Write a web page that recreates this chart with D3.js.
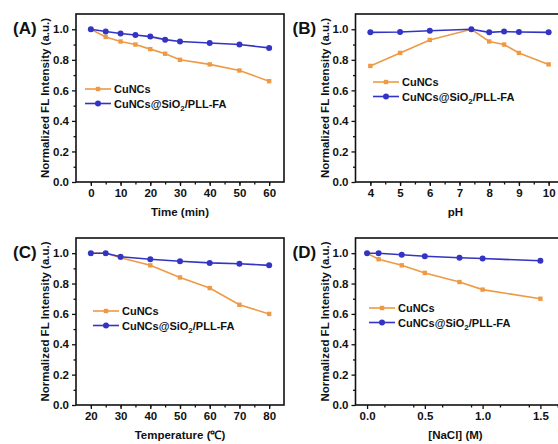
<!doctype html>
<html lang="en">
<head>
<meta charset="UTF-8">
<title>FL stability</title>
<script src="https://cdn.jsdelivr.net/npm/d3@7"></script>
<style>
    body{ margin:0; background:#fff; font-family:"Liberation Sans", Arial, sans-serif; }
    svg{ display:block; }
    .frame{ fill:none; stroke:#111; stroke-width:1.6px; }
    .tick text{ font-weight:bold; font-size:11.5px; fill:#111; }
    .axisTitle{ font-weight:bold; font-size:11.5px; fill:#111; }
    .panelLabel{ font-weight:bold; font-size:17px; fill:#111; }
    .legend text{ font-weight:bold; font-size:11px; fill:#111; }
</style>
</head>
<body>
<svg width="558" height="444"></svg>
<script>
    // data
    const timeX = [0, 5, 10, 15, 20, 25, 30, 40, 50, 60];
    const timeCu = [1.0, 0.95, 0.92, 0.90, 0.87, 0.84, 0.80, 0.77, 0.73, 0.66];
    const timeSi = [1.0, 0.985, 0.972, 0.962, 0.952, 0.932, 0.92, 0.91, 0.90, 0.878];

    const phX = [4, 5, 6, 7.4, 8, 8.5, 9, 10];
    const phCu = [0.76, 0.845, 0.93, 1.0, 0.92, 0.90, 0.845, 0.77];
    const phSi = [0.98, 0.982, 0.99, 1.0, 0.98, 0.985, 0.982, 0.98];

    const tempX = [20, 25, 30, 40, 50, 60, 70, 80];
    const tempCu = [1.0, 1.0, 0.97, 0.92, 0.84, 0.77, 0.66, 0.60];
    const tempSi = [1.0, 1.0, 0.977, 0.96, 0.947, 0.936, 0.93, 0.92];

    const naclX = [0, 0.1, 0.3, 0.5, 0.8, 1.0, 1.5];
    const naclCu = [1.0, 0.96, 0.92, 0.87, 0.81, 0.76, 0.70];
    const naclSi = [1.0, 1.0, 0.99, 0.98, 0.97, 0.965, 0.95];

    const seriesNames = ["CuNCs", "CuNCs@SiO2/PLL-FA"];
    const yTicks = [0.0, 0.2, 0.4, 0.6, 0.8, 1.0];

    const colors = ["#ee9a45", "#3434c4"];

    // layout of each panel
    const panels = [
        {tag:"(A)", x:timeX, cu:timeCu, si:timeSi, xTitle:"Time (min)",
         xd:[-5,65], xt:[0,10,20,30,40,50,60], xm:5, fmt:d3.format("d"),
         l:76, r:284, t:14, b:182, leg:[85,89]},
        {tag:"(B)", x:phX, cu:phCu, si:phSi, xTitle:"pH",
         xd:[3.5,10.5], xt:[4,5,6,7,8,9,10], xm:0.5, fmt:d3.format("d"),
         l:355.5, r:563.5, t:14, b:182, leg:[373,82]},
        {tag:"(C)", x:tempX, cu:tempCu, si:tempSi, xTitle:"Temperature (\u2103)",
         xd:[15,85], xt:[20,30,40,50,60,70,80], xm:5, fmt:d3.format("d"),
         l:76, r:284, t:238, b:405, leg:[93,311]},
        {tag:"(D)", x:naclX, cu:naclCu, si:naclSi, xTitle:"[NaCl] (M)",
         xd:[-0.1,1.7], xt:[0,0.5,1.0,1.5], xm:0.25, fmt:d3.format(".1f"),
         l:355.5, r:563.5, t:238, b:405, leg:[369,308]}
    ];

    const svg = d3.select("svg");

    panels.forEach(p => {
        const x = d3.scaleLinear().domain(p.xd).range([p.l, p.r]);
        const y = d3.scaleLinear().domain([0, 1.1]).range([p.b, p.t]);
        const g = svg.append("g");

        // minor ticks
        const xMinor = d3.range(p.xd[0], p.xd[1] + 1e-9, p.xm).filter(v => v > p.xd[0] + 1e-9 && v < p.xd[1] - 1e-9);
        g.append("g").attr("transform", `translate(0,${p.b})`)
            .call(d3.axisBottom(x).tickValues(xMinor).tickSize(2.5).tickFormat(""))
            .call(a => a.select(".domain").remove());
        g.append("g").attr("transform", `translate(${p.l},0)`)
            .call(d3.axisLeft(y).tickValues(d3.range(0.1, 1.1, 0.2)).tickSize(2.5).tickFormat(""))
            .call(a => a.select(".domain").remove());

        // major ticks
        g.append("g").attr("transform", `translate(0,${p.b})`)
            .call(d3.axisBottom(x).tickValues(p.xt).tickSize(4).tickPadding(3).tickFormat(p.fmt))
            .call(a => a.select(".domain").remove());
        g.append("g").attr("transform", `translate(${p.l},0)`)
            .call(d3.axisLeft(y).tickValues(yTicks).tickSize(4).tickPadding(3).tickFormat(d3.format(".1f")))
            .call(a => a.select(".domain").remove());
        g.selectAll(".tick line").attr("stroke", "#111").attr("stroke-width", 1.3);

        g.append("rect").attr("class", "frame")
            .attr("x", p.l).attr("y", p.t)
            .attr("width", p.r - p.l).attr("height", p.b - p.t);

        // series
        const line = d3.line().x(d => x(d[0])).y(d => y(d[1]));
        [p.cu, p.si].forEach((vals, k) => {
            const pts = p.x.map((v, i) => [v, vals[i]]);
            g.append("path").datum(pts)
                .attr("fill", "none").attr("stroke", colors[k]).attr("stroke-width", 1.6)
                .attr("d", line);
            if (k === 0) {
                g.selectAll(null).data(pts).enter().append("rect")
                    .attr("x", d => x(d[0]) - 2.2).attr("y", d => y(d[1]) - 2.2)
                    .attr("width", 4.4).attr("height", 4.4).attr("fill", colors[k]);
            } else {
                g.selectAll(null).data(pts).enter().append("circle")
                    .attr("cx", d => x(d[0])).attr("cy", d => y(d[1]))
                    .attr("r", 3).attr("fill", colors[k]);
            }
        });

        // legend
        const lg = g.append("g").attr("class", "legend");
        seriesNames.forEach((name, k) => {
            const ly = p.leg[1] + k * 14.5;
            lg.append("line").attr("x1", p.leg[0]).attr("x2", p.leg[0] + 26)
                .attr("y1", ly).attr("y2", ly)
                .attr("stroke", colors[k]).attr("stroke-width", 1.6);
            if (k === 0) {
                lg.append("rect").attr("x", p.leg[0] + 13 - 2.2).attr("y", ly - 2.2)
                    .attr("width", 4.4).attr("height", 4.4).attr("fill", colors[k]);
            } else {
                lg.append("circle").attr("cx", p.leg[0] + 13).attr("cy", ly)
                    .attr("r", 3).attr("fill", colors[k]);
            }
            const t = lg.append("text").attr("x", p.leg[0] + 29).attr("y", ly + 4);
            if (name.includes("SiO2")) {
                t.append("tspan").text("CuNCs@SiO");
                t.append("tspan").attr("font-size", "8px").attr("dy", 3).text("2");
                t.append("tspan").attr("dy", -3).text("/PLL-FA");
            } else {
                t.text(name);
            }
        });

        // titles
        g.append("text").attr("class", "axisTitle")
            .attr("x", (p.l + p.r) / 2 - (p.r > 558 ? 4 : 0))
            .attr("y", p.b + 34).attr("text-anchor", "middle")
            .text(p.xTitle);
        g.append("text").attr("class", "axisTitle")
            .attr("transform", `translate(${p.l - 27},${(p.t + p.b) / 2}) rotate(-90)`)
            .attr("text-anchor", "middle").attr("font-size", "11px")
            .text("Normalized FL Intensity (a.u.)");
        g.append("text").attr("class", "panelLabel")
            .attr("x", p.l - 63).attr("y", p.t + 20)
            .text(p.tag);
    });
</script>
</body>
</html>
